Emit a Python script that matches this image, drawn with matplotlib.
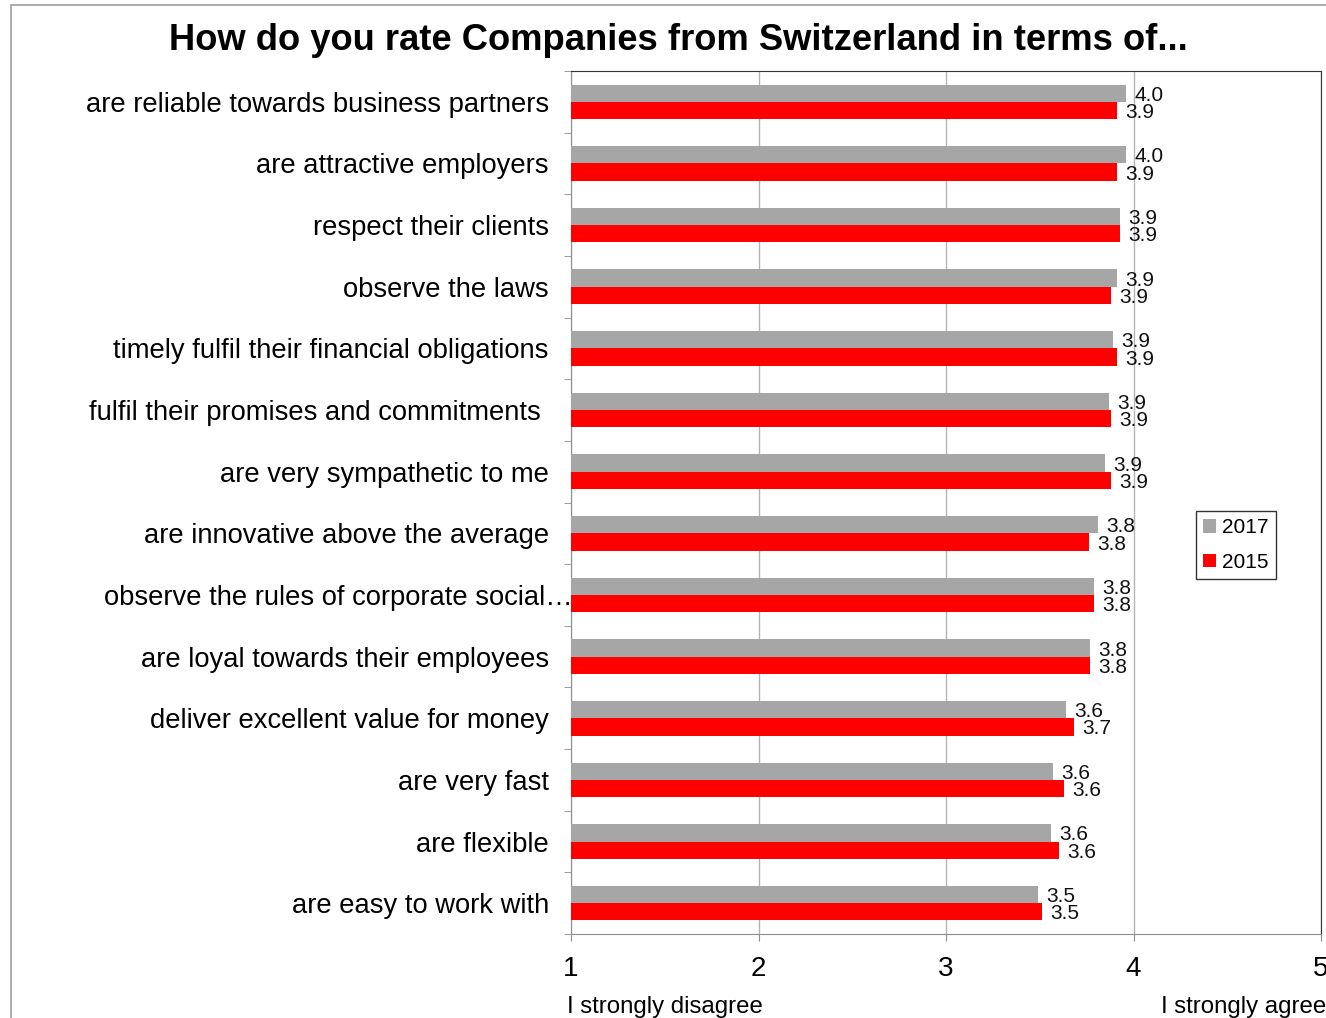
import numpy as np
import matplotlib
matplotlib.use("Agg")
import matplotlib.pyplot as plt
import matplotlib.transforms as mtransforms

plt.rcParams['font.family'] = ['Liberation Sans', 'DejaVu Sans']

categories = [
  "are reliable towards business partners",
  "are attractive employers",
  "respect their clients",
  "observe the laws",
  "timely fulfil their financial obligations",
  "fulfil their promises and commitments ",
  "are very sympathetic to me",
  "are innovative above the average",
  "observe the rules of corporate social…",
  "are loyal towards their employees",
  "deliver excellent value for money",
  "are very fast",
  "are flexible",
  "are easy to work with",
]
ratings_2017 = [3.96, 3.96, 3.93, 3.91, 3.89, 3.87, 3.85, 3.81, 3.79, 3.77, 3.64, 3.57, 3.56, 3.49]
ratings_2015 = [3.91, 3.91, 3.93, 3.88, 3.91, 3.88, 3.88, 3.76, 3.79, 3.77, 3.68, 3.63, 3.60, 3.51]
x_ticks = [1, 2, 3, 4, 5]
scale_ends = ["I strongly disagree", "I strongly agree"]
title = "How do you rate Companies from Switzerland in terms of..."

W, H = 1326, 1018
fig = plt.figure(figsize=(W / 100, H / 100), dpi=100)
ax = fig.add_axes([571 / W, 1 - 934 / H, 750 / W, 863 / H])

# outer chart frame
fig.patches.append(plt.Rectangle((11 / W, -0.1), 1.0, 1.1 - 5 / H, transform=fig.transFigure,
                                 fill=False, edgecolor='#a0a0a0', lw=1.2))

y = np.arange(len(categories))
bh = 0.28
ax.barh(y - bh / 2, ratings_2017, height=bh, color='#a6a6a6', label='2017', zorder=3)
ax.barh(y + bh / 2, ratings_2015, height=bh, color='#ff0000', label='2015', zorder=3)

for yy, v in zip(y - bh / 2, ratings_2017):
  ax.annotate("%.1f" % v, (v, yy), xytext=(6, -1.5), textcoords='offset points',
              ha='left', va='center', fontsize=15, color='#111111')
for yy, v in zip(y + bh / 2, ratings_2015):
  ax.annotate("%.1f" % v, (v, yy), xytext=(6, -1.5), textcoords='offset points',
              ha='left', va='center', fontsize=15, color='#111111')

ax.set_xlim(1, 5)
ax.set_ylim(len(categories) - 0.5, -0.5)
ax.set_xticks(x_ticks)
ax.set_xticklabels([str(t) for t in x_ticks], fontsize=20)
ax.set_yticks(y)
ax.set_yticklabels(categories, fontsize=19.7)
ax.set_yticks(np.arange(len(categories) + 1) - 0.5, minor=True)
ax.tick_params(axis='y', which='major', length=0, pad=16)
ax.tick_params(axis='y', which='minor', length=5, color='#8c8c8c', direction='out')
ax.tick_params(axis='x', length=5, color='#8c8c8c', direction='out', pad=11)

# the truncated label runs into the axis
lbl = ax.get_yticklabels()[8]
lbl.set_transform(lbl.get_transform() + mtransforms.ScaledTranslation(24 / 100, 0, fig.dpi_scale_trans))

ax.grid(axis='x', color='#b4b4b4', lw=1, zorder=0)
for s in ['left', 'bottom']:
  ax.spines[s].set_color('#8c8c8c')
for s in ['top', 'right']:
  ax.spines[s].set_color('#333333')

fig.text(567 / W, 1 - 1007 / H, scale_ends[0], fontsize=17.3, ha='left', va='center')
fig.text(1326 / W, 1 - 1007 / H, scale_ends[1], fontsize=17.3, ha='right', va='center')
fig.text(678 / W, 1 - 40 / H, title, fontsize=26.2, fontweight='bold', ha='center', va='center')

leg = ax.legend(loc='upper left', bbox_to_anchor=(1196 / W, 1 - 511 / H), bbox_transform=fig.transFigure,
                fontsize=15, frameon=True, fancybox=False, edgecolor='#000000',
                handlelength=0.6, handleheight=0.6, handletextpad=0.3, borderpad=0.35,
                labelspacing=0.75, borderaxespad=0)
leg.get_frame().set_linewidth(1)

fig.savefig("out.png", dpi=100)
